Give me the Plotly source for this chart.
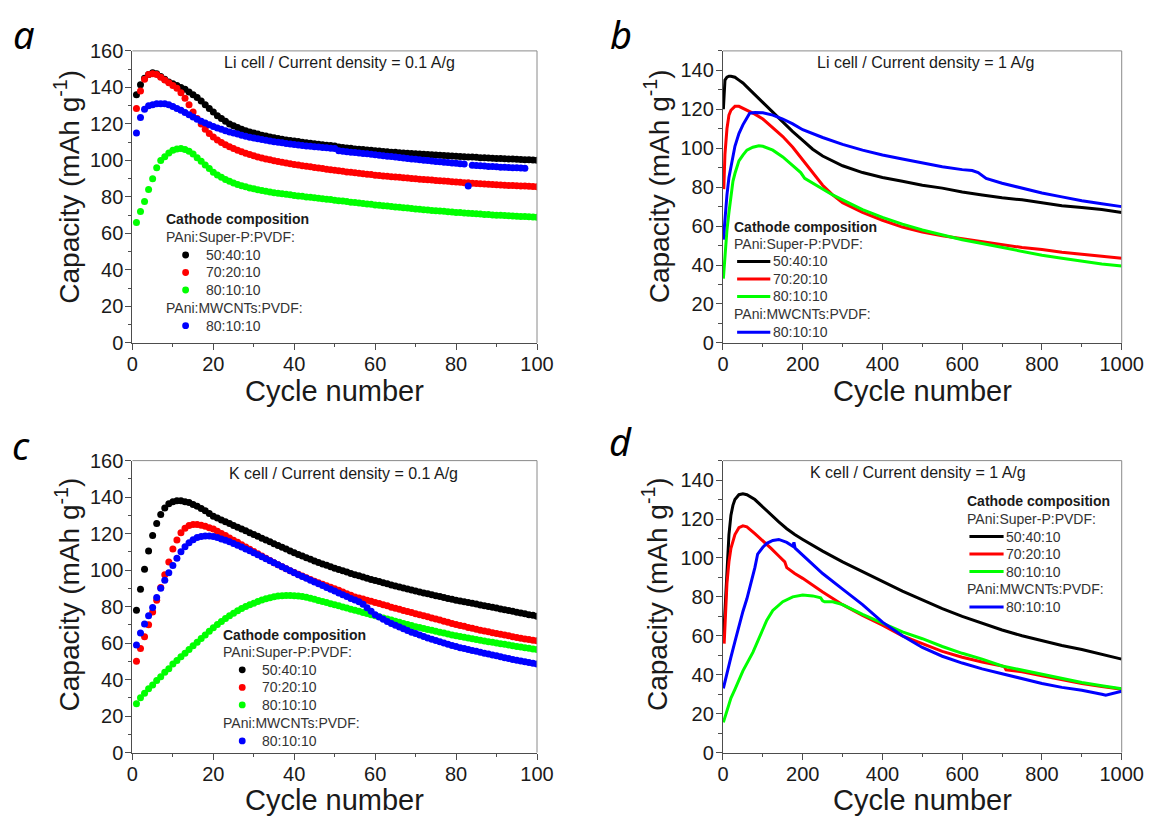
import plotly.graph_objects as go

W, H = 1173, 821

# ------------------------------------------------------------------ data
# Panel a : Li cell, 0.1 A/g (cycle-by-cycle points)
a_cycles = list(range(1, 101))
a_blue_cycles = list(range(1, 98))
a_black = [136, 141.5, 145, 147, 148, 147.5, 146, 144.5, 143, 142,
           141, 140, 139, 137.5, 136, 134.5, 132.5, 130.5, 128.5, 126.5,
           124.5, 123, 121.5, 120, 119, 118, 117, 116.3, 115.6, 115,
           114.4, 113.8, 113.3, 112.8, 112.4, 112, 111.6, 111.2, 110.9, 110.6,
           110.3, 110, 109.7, 109.4, 109.1, 108.8, 108.5, 108.3, 108.1, 107.9,
           107.4, 107.1, 106.8, 106.6, 106.3, 106.1, 105.9, 105.7, 105.5, 105.3,
           105.1, 104.9, 104.7, 104.5, 104.4, 104.2, 104.1, 103.9, 103.8, 103.6,
           103.5, 103.3, 103.2, 103.1, 102.9, 102.8, 102.7, 102.5, 102.4, 102.2,
           102.1, 102, 101.9, 101.8, 101.7, 101.5, 101.4, 101.3, 101.2, 101.1,
           101, 100.9, 100.8, 100.7, 100.6, 100.5, 100.4, 100.3, 100.2, 100.1]
a_red = [128.5, 138, 144.5, 147, 147.5, 147, 145.5, 144, 142.5, 141,
         139.5, 137, 134, 130.5, 126.5, 123, 120, 117, 114.8, 112.8,
         111.2, 109.8, 108.6, 107.5, 106.5, 105.6, 104.7, 103.9, 103.2, 102.5,
         101.9, 101.3, 100.8, 100.3, 99.8, 99.4, 99, 98.6, 98.2, 97.8,
         97.5, 97.1, 96.8, 96.5, 96.1, 95.8, 95.5, 95.2, 94.9, 94.6,
         94.3, 94, 93.7, 93.5, 93.2, 92.9, 92.7, 92.4, 92.2, 91.9,
         91.7, 91.5, 91.3, 91.1, 90.9, 90.7, 90.5, 90.3, 90.1, 89.9,
         89.7, 89.5, 89.4, 89.2, 89, 88.8, 88.7, 88.5, 88.3, 88.2,
         88, 87.8, 87.7, 87.5, 87.4, 87.2, 87.1, 86.9, 86.8, 86.6,
         86.5, 86.4, 86.3, 86.2, 86.1, 86, 85.9, 85.8, 85.7, 85.6]
a_green = [66, 72, 77.5, 84, 90, 96, 100, 102, 104, 105.5,
           106.3, 106.5, 106, 105, 103.5, 101.5, 99.5, 97.5, 95.5, 93.5,
           92, 90.7, 89.5, 88.5, 87.6, 86.8, 86.1, 85.5, 84.9, 84.4,
           83.9, 83.5, 83.1, 82.7, 82.3, 82, 81.7, 81.4, 81.1, 80.8,
           80.5, 80.3, 80, 79.8, 79.5, 79.3, 79, 78.7, 78.5, 78.2,
           77.9, 77.7, 77.4, 77.1, 76.9, 76.6, 76.4, 76.1, 75.9, 75.6,
           75.4, 75.2, 75, 74.7, 74.5, 74.3, 74.1, 73.9, 73.6, 73.4,
           73.2, 73, 72.8, 72.6, 72.4, 72.3, 72.1, 71.9, 71.7, 71.5,
           71.4, 71.2, 71, 70.9, 70.7, 70.6, 70.4, 70.3, 70.1, 70,
           69.9, 69.8, 69.6, 69.5, 69.4, 69.3, 69.2, 69.1, 69, 68.8]
a_blue = [115, 123.5, 128, 130, 130.5, 131, 131, 131, 130.5, 129.5,
          128.5, 127.5, 126.3, 125, 123.8, 122.6, 121.5, 120.5, 119.5, 118.6,
          117.8, 117, 116.3, 115.6, 115, 114.4, 113.8, 113.2, 112.7, 112.2,
          111.8, 111.4, 111, 110.6, 110.2, 109.9, 109.6, 109.3, 109, 108.7,
          108.4, 108.2, 107.9, 107.7, 107.5, 107.3, 107.1, 106.9, 106.7, 106.5,
          105.3, 105, 104.8, 104.5, 104.3, 104, 103.8, 103.6, 103.3, 103.1,
          102.8, 102.6, 102.3, 102.1, 101.8, 101.6, 101.3, 101.1, 100.8, 100.6,
          100.3, 100.1, 99.9, 99.6, 99.4, 99.2, 99, 98.8, 98.6, 98.4,
          98.2, 98, 86, 97.4, 97.2, 97, 96.9, 96.7, 96.6, 96.5,
          96.3, 96.2, 96.1, 96, 95.9, 95.8, 95.7]

# Panel b : Li cell, 1 A/g
b_black_cyc = [1, 2, 3, 5, 10, 15, 20, 30, 40, 50, 60, 70, 80, 90, 100, 125, 150, 175, 200,
               225, 250, 275, 300, 350, 400, 450, 500, 550, 600, 650, 700, 750, 800, 850, 900, 950, 1000]
b_black = [120, 127, 131, 135, 136.5, 137, 137, 136.5, 135, 133.5, 131.5, 129.5, 127.5, 125.5, 123,
           118, 113.5, 108.5, 104, 99.5, 96, 93.5, 91, 87.5, 85, 83, 81, 79.5, 77.5, 76, 74.5,
           73.5, 72, 70.5, 69.5, 68.5, 67]
b_red_cyc = [2, 3, 5, 10, 15, 20, 30, 40, 50, 60, 67, 80, 100, 120, 150, 175, 200, 225, 250, 275,
             300, 350, 400, 450, 500, 550, 600, 650, 700, 750, 800, 850, 900, 950, 1000]
b_red = [79, 86, 97, 110, 117, 119.5, 121.5, 121.5, 120.5, 119.5, 118.5, 117.5, 115, 111.5, 106,
         100.5, 94, 87.5, 81, 76, 72, 67, 63, 59.5, 57, 55, 53.5, 52, 50.5, 49, 48, 46.5, 45.5,
         44.5, 43.5]
b_green_cyc = [1, 3, 5, 10, 15, 20, 25, 30, 40, 50, 60, 75, 90, 100, 125, 150, 175, 195, 205, 225,
               250, 275, 300, 350, 400, 450, 500, 550, 600, 650, 700, 750, 800, 850, 900, 950, 1000]
b_green = [33, 40, 46, 58, 67, 76, 83, 87, 93.5, 96.5, 99, 100.5, 101.3, 101, 99, 95.5, 91, 87.5,
           84.5, 82, 79, 76, 73.5, 68.5, 64.5, 61, 58, 55.5, 53, 51, 49, 47, 45, 43.5, 42, 40.5, 39.5]
b_blue_cyc = [1, 5, 10, 15, 20, 30, 40, 50, 60, 67, 80, 100, 125, 150, 175, 200, 250, 300, 350, 400,
              450, 500, 550, 600, 625, 640, 650, 660, 700, 750, 800, 850, 900, 950, 1000]
b_blue = [53, 65, 76, 85, 91, 101, 107.5, 112, 115.5, 118, 118.3, 118.2, 117, 115, 112.5, 109.5,
          105.5, 102, 99, 96.5, 94.5, 92.5, 90.5, 89, 88.5, 87.5, 86, 84.5, 82, 79.5, 77, 75, 73,
          71.5, 70]

# Panel c : K cell, 0.1 A/g (cycle-by-cycle points)
c_cycles = list(range(1, 101))
c_black = [78, 89.5, 100.5, 110.5, 119, 125.5, 130.5, 134, 136.3, 137.5,
           138, 138, 137.5, 137, 136, 135, 133.8, 132.5, 131, 129.5,
           128.5, 127.5, 126.5, 125.5, 124.5, 123.5, 122.5, 121.5, 120.5, 119.5,
           118.5, 117.5, 116.5, 115.5, 114.5, 113.5, 112.5, 111.5, 110.5, 109.5,
           108.6, 107.7, 106.8, 105.9, 105, 104.2, 103.4, 102.6, 101.8, 101,
           100.3, 99.6, 98.9, 98.2, 97.5, 96.9, 96.2, 95.6, 94.9, 94.3,
           93.7, 93.1, 92.5, 91.9, 91.3, 90.7, 90.2, 89.6, 89.1, 88.5,
           88, 87.5, 87, 86.5, 86, 85.5, 85, 84.5, 84, 83.5,
           83.1, 82.6, 82.2, 81.8, 81.4, 80.9, 80.5, 80.1, 79.6, 79.2,
           78.7, 78.3, 77.8, 77.4, 76.9, 76.5, 76.1, 75.6, 75.2, 74.7]
c_red = [50, 57, 63.5, 70, 77, 83.5, 90.5, 97.5, 104.5, 111.5,
         116.5, 120.5, 123, 124.5, 125, 125, 124.6, 124, 123.2, 122.5,
         121.3, 120.1, 118.9, 117.6, 116.4, 115.2, 113.9, 112.7, 111.4, 110.2,
         109, 107.7, 106.5, 105.2, 104, 102.9, 101.8, 100.8, 99.7, 98.7,
         97.7, 96.8, 95.8, 94.9, 93.9, 93.1, 92.3, 91.4, 90.6, 89.8,
         88.9, 88, 87.1, 86.2, 85.3, 84.7, 84.1, 83.5, 82.9, 82.3,
         81.7, 81, 80.4, 79.7, 79.1, 78.5, 77.9, 77.3, 76.7, 76.1,
         75.5, 75, 74.4, 73.8, 73.2, 72.6, 72, 71.4, 70.8, 70.2,
         69.7, 69.2, 68.6, 68.1, 67.6, 67.1, 66.6, 66.2, 65.7, 65.2,
         64.8, 64.4, 64, 63.5, 63.1, 62.7, 62.3, 62, 61.6, 61.3]
c_green = [26.7, 30, 32.5, 35, 37, 39.5, 41.5, 44, 46, 48.5,
           50.5, 52.5, 54.5, 56.5, 58.5, 60.5, 62.5, 64.5, 66.5, 68.4,
           70.2, 71.9, 73.5, 75, 76.4, 77.7, 78.9, 80, 81, 81.9,
           82.8, 83.6, 84.3, 84.9, 85.4, 85.8, 86, 86.1, 86.1, 86,
           85.8, 85.5, 85.1, 84.6, 84, 83.4, 82.8, 82.2, 81.6, 81,
           80.4, 79.8, 79.2, 78.6, 78, 77.4, 76.8, 76.2, 75.6, 75,
           74.4, 73.8, 73.2, 72.6, 72, 71.4, 70.8, 70.2, 69.6, 69,
           68.5, 68, 67.5, 67, 66.5, 66, 65.5, 65, 64.5, 64,
           63.6, 63.2, 62.8, 62.4, 62, 61.6, 61.2, 60.8, 60.4, 60,
           59.6, 59.3, 58.9, 58.6, 58.2, 57.9, 57.5, 57.2, 56.8, 56.5]
c_blue = [59, 65.5, 70.5, 75, 79.5, 85, 90, 94.5, 98.5, 102.5,
          106.5, 110, 112.8, 115, 116.7, 117.8, 118.4, 118.7, 118.7, 118.4,
          117.8, 117.1, 116.3, 115.5, 114.6, 113.6, 112.6, 111.6, 110.6, 109.5,
          108.4, 107.3, 106.2, 105.1, 104, 102.9, 101.8, 100.7, 99.6, 98.5,
          97.5, 96.5, 95.5, 94.5, 93.5, 92.5, 91.5, 90.5, 89.5, 88.5,
          87.5, 86.5, 85.5, 84.5, 83.6, 82.7, 81.3, 79.4, 77.4, 75.6,
          74.3, 73.1, 71.9, 70.8, 69.8, 68.8, 67.8, 66.9, 66, 65.2,
          64.4, 63.6, 62.8, 62.1, 61.4, 60.7, 60, 59.3, 58.7, 58.1,
          57.5, 57, 56.5, 56, 55.5, 55, 54.5, 54, 53.5, 53,
          52.5, 52, 51.5, 51, 50.6, 50.2, 49.8, 49.4, 49, 48.6]

# Panel d : K cell, 1 A/g
d_black_cyc = [1, 3, 5, 10, 15, 20, 25, 30, 40, 50, 60, 80, 100, 120, 140, 160, 180, 200, 250, 300,
               350, 400, 450, 500, 550, 600, 650, 700, 750, 800, 850, 900, 950, 1000]
d_black = [57, 65, 75, 95, 112, 122, 127, 130, 132.5, 133, 132.5, 130, 126, 122.5, 118.5, 115, 112,
           109.5, 103.5, 98, 93, 88, 83, 78.5, 74, 70, 66.5, 63, 60, 57.5, 55, 53, 50.5, 48]
d_red_cyc = [3, 5, 10, 15, 20, 30, 40, 50, 60, 80, 100, 120, 140, 155, 160, 180, 200, 250, 300, 350,
             400, 450, 500, 550, 600, 650, 700, 706, 710, 750, 800, 850, 900, 950, 1000]
d_red = [56, 68, 87, 98, 105, 112, 115.5, 116.5, 116, 112.5, 109, 105, 101, 98, 95, 92, 89.5, 82.5,
         76, 70.5, 65.5, 60, 56, 52, 49, 46.5, 44.5, 44, 42.5, 41.5, 39.5, 37.5, 35.5, 34, 32.5]
d_green_cyc = [1, 10, 20, 30, 50, 75, 100, 110, 125, 150, 175, 200, 225, 245, 250, 255, 275, 300,
               350, 400, 450, 500, 550, 600, 650, 700, 750, 800, 850, 900, 950, 1000]
d_green = [15.5, 22, 28, 32.5, 42, 51.5, 63.5, 68, 73, 77.5, 80, 81, 80.5, 79.5, 78, 77.5, 77.5, 76,
           71, 66.5, 62, 58.5, 54.5, 51, 48, 44.5, 42.3, 40.2, 38, 36, 34.3, 32.8]
d_blue_cyc = [1, 10, 20, 30, 40, 50, 60, 70, 80, 87, 100, 110, 125, 140, 160, 175, 178, 181, 200,
              250, 300, 350, 400, 450, 500, 550, 600, 650, 700, 750, 800, 850, 900, 950, 960, 1000]
d_blue = [33, 41, 49, 57, 65, 72.5, 79, 86.5, 95, 102, 105.5, 107.5, 109, 109.5, 108, 106, 108, 105,
          101.5, 92, 84, 76, 67, 60, 54, 49.5, 46, 43, 40.5, 38, 35.5, 33.5, 32, 30, 29.5, 31.5]

series_names = ["50:40:10", "70:20:10", "80:10:10", "80:10:10"]
series_colors = ["#000000", "#ff0000", "#00ff00", "#0000ff"]
panel_notes = ["Li cell / Current density = 0.1 A/g", "Li cell / Current density = 1 A/g",
               "K cell / Current density = 0.1 A/g", "K cell / Current density = 1 A/g"]
panel_letters = ["a", "b", "c", "d"]

# ------------------------------------------------------------------ layout helpers
FONT = "Liberation Sans"
AXC = "#4d4d4d"


def px(x):
    return x / W


def py(y):
    return 1 - y / H


# plot boxes in pixels: (left, right, top, bottom)
boxes = {
    "a": (129.5, 544, 41, 341),
    "b": (734.5, 1143, 41, 341),
    "c": (129.5, 544, 462, 762),
    "d": (734.5, 1143, 462, 762),
}
ax_ids = {"a": "", "b": "2", "c": "3", "d": "4"}

fig = go.Figure()

sets = {
    "a": [(a_cycles, a_black), (a_cycles, a_red), (a_cycles, a_green), (a_blue_cycles, a_blue)],
    "b": [(b_black_cyc, b_black), (b_red_cyc, b_red), (b_green_cyc, b_green), (b_blue_cyc, b_blue)],
    "c": [(c_cycles, c_black), (c_cycles, c_red), (c_cycles, c_green), (c_cycles, c_blue)],
    "d": [(d_black_cyc, d_black), (d_red_cyc, d_red), (d_green_cyc, d_green), (d_blue_cyc, d_blue)],
}

for key, data in sets.items():
    sid = ax_ids[key]
    for (xs, ys), col, nm in zip(data, series_colors, series_names):
        if key in ("a", "c"):
            fig.add_trace(go.Scatter(x=xs, y=ys, mode="markers", name=nm,
                                     marker=dict(color=col, size=7, line=dict(width=0)),
                                     xaxis="x" + sid, yaxis="y" + sid, showlegend=False))
        else:
            fig.add_trace(go.Scatter(x=xs, y=ys, mode="lines", name=nm,
                                     line=dict(color=col, width=3),
                                     xaxis="x" + sid, yaxis="y" + sid, showlegend=False))

layout = dict(width=W, height=H, margin=dict(l=0, r=0, t=0, b=0),
              paper_bgcolor="white", plot_bgcolor="white", showlegend=False,
              font=dict(family=FONT, color="#1a1a1a"))

shapes = []
annotations = []

for key in ["a", "b", "c", "d"]:
    l, r, t, b = boxes[key]
    sid = ax_ids[key]
    short = key in ("a", "c")
    xa = dict(domain=[px(l), px(r)], range=[0, 100] if short else [0, 1000],
              dtick=20 if short else 200, tick0=0,
              showline=True, linecolor=AXC, linewidth=1.2, mirror=False,
              ticks="outside", ticklen=6, tickwidth=1.2, tickcolor=AXC,
              ticklabelstandoff=-3,
              minor=dict(dtick=10 if short else 100, ticks="outside", ticklen=3.5,
                         tickwidth=1, tickcolor=AXC, showgrid=False),
              showgrid=False, zeroline=False,
              tickfont=dict(family=FONT, size=20, color="#1a1a1a"),
              anchor="y" + sid)
    ya = dict(domain=[py(b), py(t)], range=[0, 160] if short else [0, 150],
              dtick=20, tick0=0,
              showline=True, linecolor=AXC, linewidth=1.2, mirror=False,
              ticks="outside", ticklen=6, tickwidth=1.2, tickcolor=AXC,
              ticklabelstandoff=-2,
              minor=dict(dtick=10, ticks="outside", ticklen=3.5, tickwidth=1,
                         tickcolor=AXC, showgrid=False),
              showgrid=False, zeroline=False,
              tickfont=dict(family=FONT, size=20, color="#1a1a1a"),
              anchor="x" + sid)
    layout["xaxis" + sid] = xa
    layout["yaxis" + sid] = ya
    # top / right frame
    shapes.append(dict(type="line", xref="x%s domain" % sid, yref="y%s domain" % sid,
                       x0=0, x1=1, y0=1, y1=1, line=dict(color="#8a8a8a", width=1)))
    shapes.append(dict(type="line", xref="x%s domain" % sid, yref="y%s domain" % sid,
                       x0=1, x1=1, y0=0, y1=1, line=dict(color="#8a8a8a", width=1)))

# axis titles
xt_pos = {"a": (336.8, 390), "b": (938.8, 390), "c": (336.8, 811), "d": (938.8, 811)}
yt_pos = {"a": (63, 180), "b": (667, 180), "c": (63, 599), "d": (665, 599)}
for key in ["a", "b", "c", "d"]:
    x0, y0 = xt_pos[key]
    annotations.append(dict(text="Cycle number", xref="paper", yref="paper", x=px(x0), y=py(y0),
                            xanchor="center", yanchor="middle", showarrow=False,
                            font=dict(family=FONT, size=29, color="#1a1a1a")))
    x1, y1 = yt_pos[key]
    annotations.append(dict(text="Capacity (mAh g<sup>-1</sup>)", xref="paper", yref="paper",
                            x=px(x1), y=py(y1), textangle=-90,
                            xanchor="center", yanchor="middle", showarrow=False,
                            font=dict(family=FONT, size=28, color="#1a1a1a")))

# condition notes
note_pos = [(341.7, 53), (942, 53), (345.7, 475), (934, 474)]
for txt, (x0, y0) in zip(panel_notes, note_pos):
    annotations.append(dict(text=txt, xref="paper", yref="paper", x=px(x0), y=py(y0),
                            xanchor="center", yanchor="middle", showarrow=False,
                            font=dict(family=FONT, size=16, color="#1a1a1a")))

# panel letters
letter_pos = [(18, 24), (630, 24), (15, 446), (630, 442)]
for let, (x0, y0) in zip(panel_letters, letter_pos):
    annotations.append(dict(text="<i>%s</i>" % let, xref="paper", yref="paper", x=px(x0), y=py(y0),
                            xanchor="center", yanchor="middle", showarrow=False,
                            font=dict(family="Noto Sans", size=38, color="#000000")))

# legends (title x, row ys, symbol kind)
leg_specs = {
    "a": dict(x=164, y=[214, 232, 250.7, 268.7, 286.7, 305, 323.3], sym="dot", sx=184, tx=205),
    "b": dict(x=746, y=[221.5, 239.5, 257.3, 275.3, 293.3, 311.7, 330], sym="line", sx=(749, 783), tx=786),
    "c": dict(x=222, y=[641, 659, 677, 695, 713, 731.5, 750], sym="dot", sx=242, tx=262),
    "d": dict(x=984, y=[503.3, 521.7, 540, 558, 576, 594.3, 612.3], sym="line", sx=(987, 1022), tx=1024),
}
LF = 14
for key, s in leg_specs.items():
    ys = s["y"]
    annotations.append(dict(text="<b>Cathode composition</b>", xref="paper", yref="paper",
                            x=px(s["x"] - 2), y=py(ys[0]), xanchor="left", yanchor="middle",
                            showarrow=False, font=dict(family=FONT, size=LF, color="#1a1a1a")))
    annotations.append(dict(text="PAni:Super-P:PVDF:", xref="paper", yref="paper",
                            x=px(s["x"] - 2), y=py(ys[1]), xanchor="left", yanchor="middle",
                            showarrow=False, font=dict(family=FONT, size=LF, color="#333333")))
    annotations.append(dict(text="PAni:MWCNTs:PVDF:", xref="paper", yref="paper",
                            x=px(s["x"] - 2), y=py(ys[5]), xanchor="left", yanchor="middle",
                            showarrow=False, font=dict(family=FONT, size=LF, color="#333333")))
    rows = [ys[2], ys[3], ys[4], ys[6]]
    for yy, col, nm in zip(rows, series_colors, series_names):
        annotations.append(dict(text=nm, xref="paper", yref="paper",
                                x=px(s["tx"] - 2), y=py(yy), xanchor="left", yanchor="middle",
                                showarrow=False, font=dict(family=FONT, size=LF, color="#333333")))
        if s["sym"] == "dot":
            cx = s["sx"]
            shapes.append(dict(type="circle", xref="paper", yref="paper",
                               x0=px(cx - 3.5), x1=px(cx + 3.5), y0=py(yy + 3.5), y1=py(yy - 3.5),
                               fillcolor=col, line=dict(width=0)))
        else:
            x0, x1 = s["sx"]
            shapes.append(dict(type="line", xref="paper", yref="paper",
                               x0=px(x0), x1=px(x1), y0=py(yy), y1=py(yy),
                               line=dict(color=col, width=3)))

layout["shapes"] = shapes
layout["annotations"] = annotations
fig.update_layout(**layout)
fig.write_html("out.html")
